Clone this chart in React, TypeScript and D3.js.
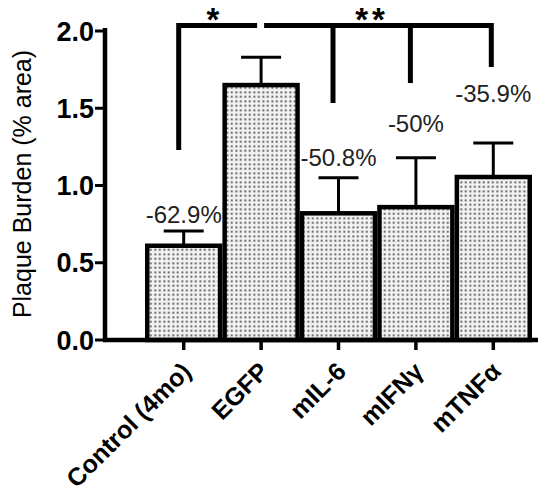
import React from "react";
import * as d3 from "d3";

const categories = ["Control (4mo)", "EGFP", "mIL-6", "mIFNγ", "mTNFα"];
const means = [0.61, 1.65, 0.82, 0.86, 1.055];
const errors = [0.095, 0.18, 0.23, 0.32, 0.22];
const pctLabels = ["-62.9%", "", "-50.8%", "-50%", "-35.9%"];
const pctLabelValues = [0.757, 0, 1.126, 1.346, 1.54];
const yTicks = [0, 0.5, 1.0, 1.5, 2.0];
// bracket endpoints in data units
const bracketLevel = 2.036;
const starBracketDrop = 1.23;
const doubleStarDrops = [1.534, 1.663, 1.767];

const W = 555;
const H = 492;
const FONT = "'Liberation Sans', Arial, Helvetica, sans-serif";

export default function App() {
  const x = d3.scaleBand<string>().domain(categories).range([145, 532]).padding(0);
  const y = d3.scaleLinear().domain([0, 2]).range([340, 31]);
  const bw = x.bandwidth();
  const cx = (c: string) => (x(c) as number) + bw / 2;
  const lw = 4.5;
  const yb = y(bracketLevel);

  return (
    <svg width={W} height={H} style={{ position: "absolute", left: 0, top: 0, background: "#fff" }} fontFamily={FONT}>
      <defs>
        <pattern id="dots" width={4.5} height={4.5} patternUnits="userSpaceOnUse">
          <rect width={4.5} height={4.5} fill="#f2f2f2" />
          <rect x={1.4} y={1.4} width={1.8} height={1.8} fill="#444" />
        </pattern>
      </defs>

      {/* error bars + bars */}
      {categories.map((c, i) => {
        const top = y(means[i] + errors[i]);
        return (
          <g key={c}>
            <line x1={cx(c)} x2={cx(c)} y1={y(means[i])} y2={top} stroke="#000" strokeWidth={3} />
            <line x1={cx(c) - 20} x2={cx(c) + 20} y1={top} y2={top} stroke="#000" strokeWidth={3} />
            <rect
              x={(x(c) as number) + lw / 2}
              y={y(means[i])}
              width={bw - lw}
              height={y(0) - y(means[i])}
              fill="url(#dots)"
              stroke="#000"
              strokeWidth={lw}
            />
          </g>
        );
      })}

      {/* axes */}
      <line x1={103} x2={538} y1={y(0)} y2={y(0)} stroke="#000" strokeWidth={lw} />
      <line x1={105} x2={105} y1={y(2) - 3} y2={y(0) + 2} stroke="#000" strokeWidth={lw} />
      {yTicks.map((t) => (
        <g key={t}>
          <line x1={95} x2={105} y1={y(t)} y2={y(t)} stroke="#000" strokeWidth={3} />
          <text x={94} y={y(t)} dy="0.36em" textAnchor="end" fontSize={27} fontWeight="bold">
            {d3.format(".1f")(t)}
          </text>
        </g>
      ))}
      {categories.map((c) => (
        <g key={c}>
          <line x1={cx(c)} x2={cx(c)} y1={y(0)} y2={y(0) + 10} stroke="#000" strokeWidth={3.5} />
          <text
            transform={`translate(${cx(c) + 9},${y(0) + 33}) rotate(-45)`}
            textAnchor="end"
            fontSize={25}
            fontWeight="bold"
          >
            {c}
          </text>
        </g>
      ))}
      <text transform={`translate(31,${184}) rotate(-90)`} textAnchor="middle" fontSize={25}>
        Plaque Burden (% area)
      </text>

      {/* percentage labels */}
      {categories.map((c, i) =>
        pctLabels[i] ? (
          <text key={c} x={cx(c)} y={y(pctLabelValues[i])} textAnchor="middle" fontSize={24} fill="#222">
            {pctLabels[i]}
          </text>
        ) : null
      )}

      {/* significance brackets */}
      <path
        d={`M${cx(categories[0]) - 5},${y(starBracketDrop)} V${yb} H${cx(categories[1]) - 4}`}
        fill="none"
        stroke="#000"
        strokeWidth={5}
      />
      <path
        d={`M${cx(categories[1]) + 3},${yb} H${cx(categories[4]) - 2} V${y(doubleStarDrops[2])}`}
        fill="none"
        stroke="#000"
        strokeWidth={5}
      />
      {[2, 3].map((k, j) => (
        <line
          key={k}
          x1={cx(categories[k]) - 5.5}
          x2={cx(categories[k]) - 5.5}
          y1={yb}
          y2={y(doubleStarDrops[j])}
          stroke="#000"
          strokeWidth={5}
        />
      ))}
      <text x={213} y={31} textAnchor="middle" fontSize={33} fontWeight="bold">*</text>
      <text x={372} y={31} textAnchor="middle" fontSize={33} fontWeight="bold" letterSpacing={4}>**</text>
    </svg>
  );
}
